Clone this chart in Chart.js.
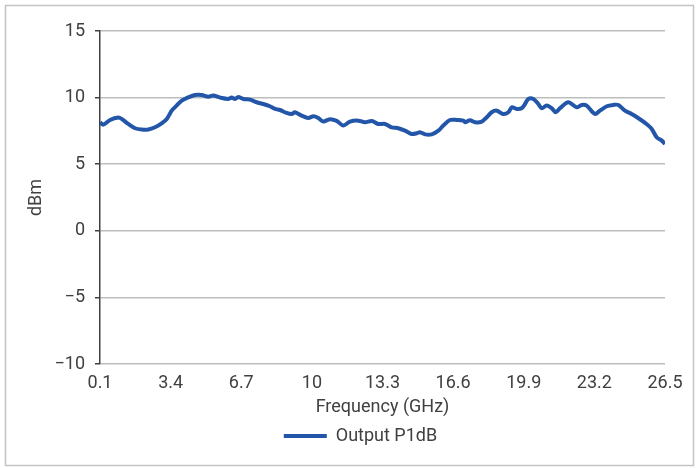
<!DOCTYPE html>
<html>
<head>
<meta charset="utf-8">
<script src="https://cdn.jsdelivr.net/npm/chart.js@4/dist/chart.umd.min.js"></script>
<style>
  html, body { margin: 0; padding: 0; background: #ffffff; }
  #wrap { position: relative; width: 699px; height: 468px; }
</style>
</head>
<body>
<div id="wrap"><canvas id="c"></canvas></div>
<script>
// ---- data ----
const seriesLabel = "Output P1dB";
const freqGHz = [
  0.1, 0.25, 0.57, 0.96, 1.11, 1.42, 1.74, 2.05, 2.36, 2.67, 2.98, 3.22, 3.45, 3.68, 3.92,
  4.23, 4.54, 4.85, 5.16, 5.39, 5.71, 6.09, 6.25, 6.41, 6.56, 6.80, 7.11, 7.42, 7.73, 8.04,
  8.28, 8.51, 8.82, 9.06, 9.21, 9.52, 9.83, 10.07, 10.30, 10.53, 10.84, 11.16, 11.47, 11.78,
  12.17, 12.48, 12.80, 13.10, 13.42, 13.73, 14.04, 14.35, 14.66, 14.90, 15.05, 15.29, 15.60,
  15.91, 16.14, 16.45, 16.77, 17.08, 17.16, 17.39, 17.62, 17.94, 18.17, 18.40, 18.64, 18.94,
  19.18, 19.34, 19.57, 19.80, 19.96, 20.11, 20.35, 20.58, 20.74, 20.97, 21.21, 21.40, 21.59,
  21.98, 22.37, 22.61, 22.84, 23.23, 23.46, 23.78, 24.08, 24.32, 24.63, 24.94, 25.26, 25.57,
  25.88, 26.11, 26.35, 26.5
];
const p1dB = [
  8.14, 7.97, 8.32, 8.5, 8.4, 8.02, 7.7, 7.6, 7.6, 7.77, 8.07, 8.4, 9.02, 9.4, 9.77,
  10.02, 10.2, 10.2, 10.07, 10.15, 10.0, 9.9, 10.0, 9.9, 10.05, 9.9, 9.85, 9.65, 9.52, 9.35,
  9.15, 9.07, 8.85, 8.77, 8.9, 8.65, 8.47, 8.6, 8.47, 8.2, 8.38, 8.25, 7.9, 8.2,
  8.27, 8.15, 8.25, 8.02, 8.02, 7.77, 7.7, 7.52, 7.27, 7.32, 7.4, 7.24, 7.24,
  7.52, 7.9, 8.32, 8.32, 8.27, 8.15, 8.3, 8.15, 8.2, 8.52, 8.9, 9.02, 8.77,
  8.9, 9.27, 9.15, 9.2, 9.52, 9.9, 9.9, 9.52, 9.2, 9.4, 9.2, 8.9, 9.2,
  9.65, 9.27, 9.45, 9.4, 8.77, 9.02, 9.35, 9.45, 9.45, 9.02, 8.77, 8.45, 8.1,
  7.65, 7.02, 6.77, 6.52
];
const xTicks = [0.1, 3.4, 6.7, 10, 13.3, 16.6, 19.9, 23.2, 26.5];
const yTicks = [-10, -5, 0, 5, 10, 15];
const xTitle = "Frequency (GHz)";
const yTitle = "dBm";

// ---- styling ----
const FONT = "Roboto, 'Liberation Sans', sans-serif";
const TEXT = "#404040";
const GRID = "#bdbdbd";
const LINE = "#2356a8";

const zeroPad = (s) => { s.paddingLeft = 0; s.paddingRight = 0; s.paddingTop = 0; s.paddingBottom = 0; };

const framePlugin = {
  id: "frame",
  beforeDraw(chart) {
    const ctx = chart.ctx;
    ctx.save();
    ctx.fillStyle = "#ffffff";
    ctx.fillRect(0, 0, chart.width, chart.height);
    ctx.strokeStyle = "#c4c4c4";
    ctx.lineWidth = 1.5;
    ctx.strokeRect(5.5, 5.5, 688, 460);
    ctx.restore();
  }
};
const legendShift = {
  id: "legendShift",
  afterLayout(chart) {
    const lg = chart.legend;
    if (lg) { lg.left = 56; lg.right = 665; }
  }
};

new Chart(document.getElementById("c"), {
  type: "line",
  data: {
    datasets: [{
      label: seriesLabel,
      data: freqGHz.map((f, i) => ({ x: f, y: p1dB[i] })),
      borderColor: LINE,
      backgroundColor: LINE,
      borderWidth: 4,
      pointRadius: 0,
      tension: 0.3,
      fill: false
    }]
  },
  options: {
    responsive: true,
    maintainAspectRatio: false,
    animation: false,
    layout: { padding: { left: 0, right: 34, top: 31, bottom: 13 } },
    plugins: {
      legend: {
        position: "bottom",
        labels: {
          usePointStyle: true,
          pointStyle: "line",
          pointStyleWidth: 43,
          boxHeight: 18,
          padding: 9,
          color: TEXT,
          font: { family: FONT, size: 18 }
        }
      },
      tooltip: { enabled: false }
    },
    scales: {
      x: {
        type: "linear",
        min: 0.1,
        max: 26.5,
        afterBuildTicks: (s) => { s.ticks = xTicks.map(v => ({ value: v })); },
        afterFit: (s) => { s.height = 54; zeroPad(s); },
        grid: { display: false, drawTicks: false },
        border: { display: false },
        ticks: {
          padding: 9,
          color: TEXT,
          font: { family: FONT, size: 18 },
          maxRotation: 0,
          autoSkip: false,
          callback: (v) => String(v)
        },
        title: {
          display: true,
          text: xTitle,
          color: TEXT,
          font: { family: FONT, size: 18 },
          padding: { top: 0, bottom: 0 }
        }
      },
      y: {
        min: -10,
        max: 15,
        afterBuildTicks: (s) => { s.ticks = yTicks.map(v => ({ value: v })); },
        afterFit: (s) => { s.width = 100; zeroPad(s); },
        grid: {
          color: GRID,
          lineWidth: 1.5,
          drawTicks: true,
          tickLength: 5,
          tickColor: TEXT,
          tickWidth: 1.5
        },
        border: { display: true, color: TEXT, width: 1.5 },
        ticks: {
          padding: 10,
          color: TEXT,
          font: { family: FONT, size: 18 },
          callback: (v) => String(v).replace("-", "\u2212")
        },
        title: {
          display: true,
          text: yTitle,
          color: TEXT,
          font: { family: FONT, size: 18 },
          padding: { top: 26, bottom: 0 }
        }
      }
    }
  },
  plugins: [framePlugin, legendShift]
});
</script>
</body>
</html>
